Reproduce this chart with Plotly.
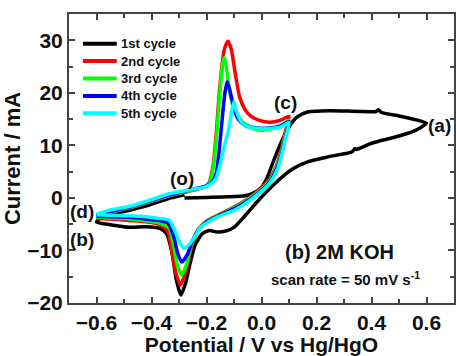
import plotly.graph_objects as go

# ---------------- data ----------------
names = ["1st cycle", "2nd cycle", "3rd cycle", "4th cycle", "5th cycle"]
colors = ["#000000", "#ff0000", "#00ff00", "#0000ff", "#00ffff"]

c1_v = [-0.28, -0.20, -0.12, -0.06, -0.03, 0.00, 0.02, 0.045, 0.07, 0.10, 0.13, 0.17, 0.25, 0.33, 0.40,
        0.415, 0.425, 0.435, 0.50, 0.56, 0.60,
        0.55, 0.48, 0.40, 0.36, 0.345, 0.34, 0.33, 0.25, 0.17, 0.11, 0.05, -0.01, -0.06, -0.10, -0.13,
        -0.16, -0.19, -0.215, -0.24, -0.26, -0.275, -0.293, -0.31, -0.325, -0.345, -0.37, -0.42, -0.48,
        -0.55, -0.60,
        -0.58, -0.55, -0.47, -0.40, -0.33, -0.28]
c1_i = [0.0, 0.1, 0.2, 0.4, 0.9, 2.0, 3.8, 7.2, 10.4, 13.5, 15.4, 16.4, 16.6, 16.5, 16.4,
        16.4, 16.8, 16.3, 15.6, 14.9, 14.2,
        12.6, 11.5, 10.4, 9.5, 9.2, 9.4, 8.8, 7.9, 6.9, 5.4, 2.8, -0.4, -3.4, -5.6, -6.3,
        -6.5, -6.2, -6.8, -8.8, -12.5, -16.0, -18.5, -15.5, -10.5, -6.8, -5.8, -5.5, -5.6,
        -5.1, -4.6,
        -3.6, -3.2, -2.2, -1.2, 0.0, 0.6]

c2_v = [-0.60, -0.55, -0.47, -0.40, -0.33, -0.27, -0.22, -0.20, -0.19, -0.175, -0.165, -0.155, -0.145,
        -0.135, -0.122, -0.11, -0.095, -0.08, -0.06, -0.04, -0.01, 0.03, 0.07, 0.10,
        0.086, 0.073, 0.055, 0.025, -0.035, -0.095, -0.16, -0.20, -0.23, -0.255, -0.275, -0.295,
        -0.31, -0.325, -0.34, -0.36, -0.40, -0.48, -0.55, -0.60]
c2_i = [-3.6, -2.8, -1.8, -0.7, 0.4, 1.2, 1.8, 2.3, 3.0, 6.5, 12.0, 19.0, 24.5,
        28.3, 29.8, 28.3, 23.5, 19.3, 16.8, 15.6, 14.8, 14.4, 14.8, 15.5,
        12.5, 9.4, 6.2, 3.3, 0.4, -1.6, -3.3, -4.4, -6.0, -9.5, -14.0, -16.6,
        -14.5, -10.5, -6.5, -5.4, -4.7, -4.3, -4.0, -3.9]

c3_v = [-0.60, -0.55, -0.47, -0.40, -0.33, -0.27, -0.22, -0.20, -0.19, -0.18, -0.17, -0.16, -0.15,
        -0.14, -0.135, -0.128, -0.115, -0.10, -0.07, -0.03, 0.00, 0.04, 0.075, 0.10,
        0.087, 0.074, 0.056, 0.027, -0.033, -0.093, -0.16, -0.20, -0.23, -0.255, -0.275, -0.29,
        -0.305, -0.32, -0.335, -0.36, -0.40, -0.48, -0.55, -0.60]
c3_i = [-3.5, -2.7, -1.7, -0.6, 0.5, 1.3, 1.9, 2.3, 2.8, 4.5, 8.0, 14.0, 21.0,
        25.8, 26.7, 25.0, 20.0, 17.0, 14.5, 13.2, 12.9, 13.2, 13.9, 14.8,
        12.0, 9.0, 6.0, 3.1, 0.3, -1.7, -3.4, -4.5, -6.0, -9.0, -13.0, -14.7,
        -13.0, -9.0, -5.8, -5.0, -4.5, -4.0, -3.8, -3.7]

c4_v = [-0.60, -0.55, -0.47, -0.40, -0.33, -0.27, -0.22, -0.20, -0.18, -0.165, -0.155, -0.143, -0.133,
        -0.125, -0.115, -0.10, -0.085, -0.06, -0.02, 0.03, 0.07, 0.10,
        0.088, 0.075, 0.057, 0.028, -0.032, -0.092, -0.16, -0.20, -0.225, -0.25, -0.27, -0.29,
        -0.305, -0.32, -0.34, -0.37, -0.42, -0.48, -0.55, -0.60]
c4_i = [-3.4, -2.6, -1.6, -0.5, 0.6, 1.4, 2.0, 2.3, 3.0, 4.6, 8.5, 15.0, 20.0,
        22.1, 20.5, 17.0, 15.0, 13.8, 13.3, 13.3, 13.7, 14.5,
        11.8, 8.8, 5.8, 2.9, 0.1, -1.9, -3.5, -4.6, -5.8, -8.0, -10.8, -12.2,
        -10.5, -7.2, -4.8, -4.3, -4.0, -3.7, -3.6, -3.5]

c5_v = [-0.60, -0.55, -0.47, -0.41, -0.336, -0.264, -0.204, -0.18, -0.165, -0.155, -0.143, -0.132,
        -0.12, -0.108, -0.10, -0.09, -0.078, -0.065, -0.04, -0.01, 0.03, 0.07, 0.10,
        0.088, 0.075, 0.058, 0.03, -0.03, -0.09, -0.16, -0.20, -0.22, -0.24, -0.262, -0.282,
        -0.297, -0.312, -0.336, -0.372, -0.42, -0.48, -0.55, -0.60]
c5_i = [-3.1, -2.3, -1.5, -0.5, 0.8, 1.5, 2.1, 2.8, 3.8, 5.5, 8.0, 10.5,
        12.9, 16.5, 18.3, 16.3, 14.8, 14.0, 13.4, 13.2, 13.2, 13.5, 14.3,
        11.5, 8.5, 5.5, 2.8, 0.0, -2.1, -3.6, -4.8, -5.5, -7.2, -8.8, -9.6,
        -8.5, -6.6, -4.2, -3.9, -3.6, -3.4, -3.3, -3.2]

cycles_v = [c1_v, c2_v, c3_v, c4_v, c5_v]
cycles_i = [c1_i, c2_i, c3_i, c4_i, c5_i]

x_ticks = [-0.6, -0.4, -0.2, 0.0, 0.2, 0.4, 0.6]
y_ticks = [-20, -10, 0, 10, 20, 30]

FONT = "Liberation Sans, Arial, Helvetica, sans-serif"

# layout constants (pixels)
W, H = 456, 356
ML, MR, MT, MB = 69, 0, 14, 53
PW, PH = W - ML - MR, H - MT - MB


def px_x(p):
    return (p - ML) / PW


def px_y(p):
    return (H - MB - p) / PH


fig = go.Figure()
for v, i, n, c in zip(cycles_v, cycles_i, names, colors):
    fig.add_trace(go.Scatter(x=v, y=i, mode="lines", name=n, showlegend=False,
                             line=dict(color=c, width=3.5, shape="spline", smoothing=0.6)))

# hand-built legend (tighter row spacing than plotly's built-in legend allows)
leg_x0, leg_x1, leg_tx, leg_y0, leg_dy = 83, 117, 119, 43.7, 17.4
for k, (n, c) in enumerate(zip(names, colors)):
    yy = px_y(leg_y0 + k * leg_dy)
    fig.add_shape(type="line", xref="paper", yref="paper", x0=px_x(leg_x0), x1=px_x(leg_x1),
                  y0=yy, y1=yy, line=dict(color=c, width=4))
    fig.add_annotation(xref="paper", yref="paper", x=px_x(leg_tx), y=yy, text=n, showarrow=False,
                       xanchor="left", yanchor="middle",
                       font=dict(family=FONT, size=13, color="#111", weight="bold"))

labels = [
    ("(a)", 0.647, 13.8, 19),
    ("(c)", 0.089, 18.2, 19),
    ("(o)", -0.289, 3.75, 19),
    ("(d)", -0.651, -2.5, 19),
    ("(b)", -0.651, -7.9, 19),
    ("(b) 2M KOH", 0.282, -10.2, 20),
    ("scan rate = 50 mV s<sup>-1</sup>", 0.304, -15.3, 15),
]
for t, x, y, s in labels:
    fig.add_annotation(x=x, y=y, text=t, showarrow=False, xanchor="center", yanchor="middle",
                       font=dict(family=FONT, size=s, color="#111", weight="bold"))

axis_common = dict(showline=True, linecolor="#444", linewidth=2, mirror="allticks",
                   ticks="inside", ticklen=6, tickwidth=1.5, tickcolor="#444",
                   showgrid=False, zeroline=False,
                   tickfont=dict(family=FONT, size=21, color="#111", weight="bold"))

fig.update_xaxes(range=[-0.7, 0.7], tickvals=x_ticks, tickformat=".1f",
                 minor=dict(dtick=0.1, ticks="inside", ticklen=4, tickcolor="#444"),
                 title=dict(text="Potential / V vs Hg/HgO", standoff=5,
                            font=dict(family=FONT, size=21, color="#111", weight="bold")),
                 **axis_common)
fig.update_yaxes(range=[-20, 35], tickvals=y_ticks,
                 minor=dict(dtick=5, ticks="inside", ticklen=4, tickcolor="#444"),
                 title=dict(text="Current / mA", standoff=6,
                            font=dict(family=FONT, size=22, color="#111", weight="bold")),
                 **axis_common)

fig.update_layout(
    width=W, height=H, autosize=False,
    margin=dict(l=ML, r=MR, t=MT, b=MB),
    paper_bgcolor="white", plot_bgcolor="white",
    showlegend=False,
)

fig.write_html("out.html")
